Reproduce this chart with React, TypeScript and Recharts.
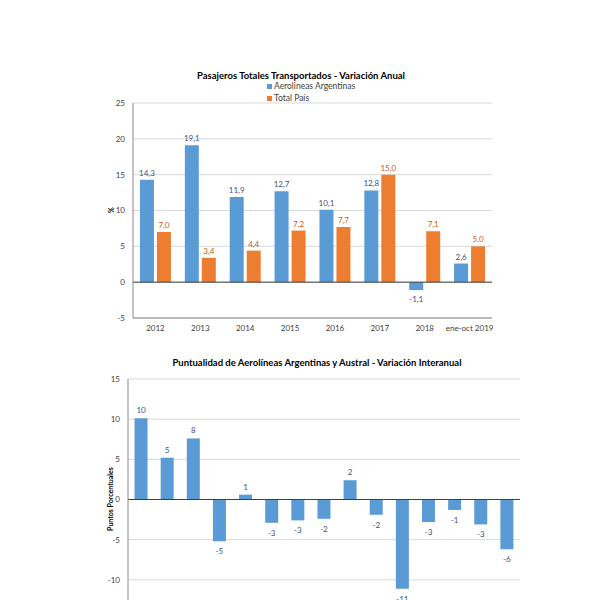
import React from 'react';
import { BarChart, Bar, XAxis, YAxis, CartesianGrid, ReferenceLine, LabelList } from 'recharts';

const years = ['2012', '2013', '2014', '2015', '2016', '2017', '2018', 'ene-oct 2019'];
const aerolineas = [14.3, 19.1, 11.9, 12.7, 10.1, 12.8, -1.1, 2.6];
const totalPais = [7.0, 3.4, 4.4, 7.2, 7.7, 15.0, 7.1, 5.0];
const topTicks = [-5, 0, 5, 10, 15, 20, 25];

const months = ['ago-18', 'sep-18', 'oct-18', 'nov-18', 'dic-18', 'ene-19', 'feb-19', 'mar-19', 'abr-19', 'may-19', 'jun-19', 'jul-19', 'ago-19', 'sep-19', 'oct-19'];
const puntualidad = [10.1, 5.2, 7.6, -5.2, 0.6, -2.9, -2.6, -2.4, 2.4, -1.9, -11.1, -2.8, -1.3, -3.1, -6.2];
const bottomTicks = [-10, -5, 0, 5, 10, 15];

const topData = years.map((y, i) => ({ year: y, aero: aerolineas[i], total: totalPais[i] }));
const bottomData = months.map((m, i) => ({ month: m, value: puntualidad[i] }));

const FONT = 'Lato, "Open Sans", sans-serif';
const BLUE = '#5B9BD5';
const ORANGE = '#ED7D31';
const BORDER = '#898989';
const GRID = '#D9D9D9';
const TICK = '#404040';
const NAVY = '#3B4F82';

const makeLabel = (color: string, fmt: (v: number) => string, above: number, below: number) => (props: any) => {
  const vb = props.viewBox || {};
  const x = props.x ?? vb.x;
  const y = props.y ?? vb.y;
  const w = props.width ?? vb.width;
  const h = props.height ?? vb.height;
  const v = Number(props.value);
  const top = Math.min(y, y + h);
  const bottom = Math.max(y, y + h);
  const cy = v >= 0 ? top - above : bottom + below;
  return (
    <text x={x + w / 2} y={cy} textAnchor="middle" dominantBaseline="central" fontSize={8} fontFamily={FONT} fill={color}>
      {fmt(v)}
    </text>
  );
};

const fmtDec = (v: number) => v.toFixed(1).replace('.', ',');
const fmtInt = (v: number) => String(Math.round(v));

export default function App() {
  return (
    <div style={{ position: 'absolute', left: 0, top: 0, width: 600, height: 600, overflow: 'hidden', background: '#fff', fontFamily: FONT }}>
      {/* Top chart title */}
      <div style={{ position: 'absolute', left: 101, width: 400, top: 69.5, textAlign: 'center', fontSize: 9.5, lineHeight: '12px', fontWeight: 700, color: '#000' }}>
        Pasajeros Totales Transportados - Variación Anual
      </div>
      {/* Legend */}
      <div style={{ position: 'absolute', left: 267, top: 80, fontSize: 8.5, lineHeight: '12px', color: '#404040' }}>
        <div style={{ display: 'flex', alignItems: 'center' }}>
          <span style={{ display: 'inline-block', width: 5, height: 5, background: BLUE, marginRight: 2 }} />
          Aerolineas Argentinas
        </div>
        <div style={{ display: 'flex', alignItems: 'center' }}>
          <span style={{ display: 'inline-block', width: 5, height: 5, background: ORANGE, marginRight: 2 }} />
          Total País
        </div>
      </div>
      {/* % label */}
      <div style={{ position: 'absolute', left: 111, top: 210, transform: 'translate(-50%, -50%) rotate(-90deg)', fontSize: 7, fontWeight: 700, color: '#000' }}>
        %
      </div>
      <div style={{ position: 'absolute', left: 0, top: 0 }}>
        <BarChart width={600} height={340} data={topData} margin={{ top: 103, right: 108, bottom: 2, left: 108 }} barCategoryGap="15.5%" barGap={3}>
          <CartesianGrid vertical={false} stroke={GRID} />
          <XAxis dataKey="year" tickLine={false} axisLine={{ stroke: BORDER }} tick={{ fontSize: 8, fill: TICK, fontFamily: FONT }} height={20} interval={0} tickSize={4} tickMargin={3} />
          <XAxis xAxisId="top" orientation="top" dataKey="year" tick={false} tickLine={false} axisLine={{ stroke: BORDER }} height={0} />
          <YAxis domain={[-5, 25]} ticks={topTicks} tickLine={false} axisLine={{ stroke: BORDER }} tick={{ fontSize: 8, fill: TICK, fontFamily: FONT }} width={25} interval={0} />
          <YAxis yAxisId="right" orientation="right" domain={[0, 1]} tick={false} tickLine={false} axisLine={{ stroke: BORDER }} width={0} />
          <ReferenceLine y={0} stroke="#404040" />
          <Bar dataKey="aero" fill={BLUE} isAnimationActive={false}>
            <LabelList dataKey="aero" content={makeLabel(NAVY, fmtDec, 7, 9)} />
          </Bar>
          <Bar dataKey="total" fill={ORANGE} isAnimationActive={false}>
            <LabelList dataKey="total" content={makeLabel('#C55A11', fmtDec, 7, 9)} />
          </Bar>
        </BarChart>
      </div>
      {/* Bottom chart title */}
      <div style={{ position: 'absolute', left: 117, width: 400, top: 357, textAlign: 'center', fontSize: 9.5, lineHeight: '12px', fontWeight: 700, color: '#000' }}>
        Puntualidad de Aerolíneas Argentinas y Austral - Variación Interanual
      </div>
      <div style={{ position: 'absolute', left: 110, top: 499, transform: 'translate(-50%, -50%) rotate(-90deg)', fontSize: 7, fontWeight: 700, color: '#000', whiteSpace: 'nowrap' }}>
        Puntos Porcentuales
      </div>
      <div style={{ position: 'absolute', left: 0, top: 340 }}>
        <BarChart width={600} height={300} data={bottomData} margin={{ top: 39, right: 80, bottom: 0, left: 103 }} barCategoryGap="25%">
          <CartesianGrid vertical={false} stroke={GRID} />
          <XAxis dataKey="month" tickLine={false} axisLine={{ stroke: BORDER }} tick={false} height={20} interval={0} />
          <XAxis xAxisId="top" orientation="top" dataKey="month" tick={false} tickLine={false} axisLine={{ stroke: BORDER }} height={0} />
          <YAxis domain={[-15, 15]} ticks={bottomTicks} tickLine={false} axisLine={{ stroke: BORDER }} tick={{ fontSize: 8, fill: TICK, fontFamily: FONT }} width={25} interval={0} />
          <YAxis yAxisId="right" orientation="right" domain={[0, 1]} tick={false} tickLine={false} axisLine={{ stroke: BORDER }} width={0} />
          <ReferenceLine y={0} stroke="#404040" />
          <Bar dataKey="value" fill={BLUE} isAnimationActive={false}>
            <LabelList dataKey="value" content={makeLabel(NAVY, fmtInt, 8, 10)} />
          </Bar>
        </BarChart>
      </div>
    </div>
  );
}
